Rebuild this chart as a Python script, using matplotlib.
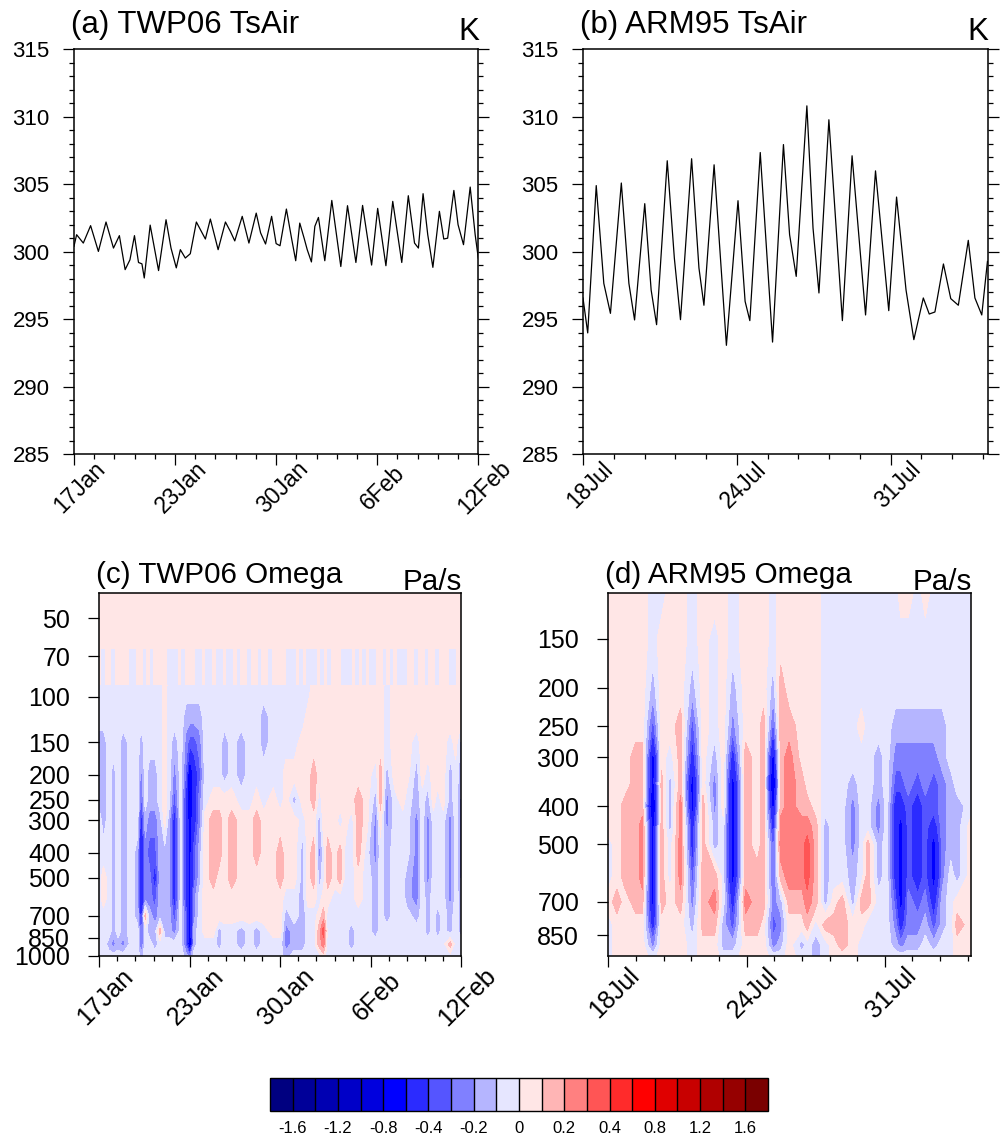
import numpy as np
import matplotlib
matplotlib.use("Agg")
import matplotlib.pyplot as plt
from matplotlib.ticker import MultipleLocator, FixedLocator, NullLocator, NullFormatter

plt.rcParams["font.family"] = ["Liberation Sans", "DejaVu Sans"]

# ---------------- surface air temperature (days since start, K) ----------------
twp_days = [0.0, 0.17, 0.6, 1.07, 1.57, 2.06, 2.54, 2.92, 3.29, 3.6, 3.89, 4.15, 4.37, 4.52,
            4.9, 5.44, 5.92, 6.24, 6.58, 6.84, 7.16, 7.48, 7.87, 8.45, 8.77, 9.27, 9.74,
            10.06, 10.34, 10.82, 11.25, 11.72, 12.0, 12.32, 12.71, 13.0, 13.25, 13.66, 14.0,
            14.26, 14.52, 14.8, 15.0, 15.27, 15.49, 15.72, 16.13, 16.58, 17.16, 17.59, 18.13,
            18.56, 19.14, 19.53, 20.06, 20.5, 21.08, 21.5, 21.9, 22.15, 22.45, 22.75, 23.08,
            23.5, 23.78, 24.03, 24.43, 24.7, 25.05, 25.48, 25.8, 26.0]
twp_tsair = [300.4, 301.26, 300.64, 301.93, 300.02, 302.2, 300.27, 301.19, 298.67, 299.4,
             301.19, 299.2, 299.1, 298.05, 301.97, 298.6, 302.37, 300.27, 298.8, 300.15,
             299.53, 299.85, 302.2, 300.94, 302.42, 300.15, 302.2, 301.5, 300.8, 302.62,
             300.64, 302.86, 301.4, 300.57, 302.62, 300.6, 300.44, 303.16, 300.94, 299.33,
             302.12, 301.0, 300.15, 299.24, 301.88, 302.54, 299.33, 303.8, 298.9, 303.41,
             299.2, 303.43, 299.01, 303.21, 298.96, 303.73, 299.2, 304.15, 300.64, 300.27,
             304.3, 301.26, 298.84, 302.99, 300.94, 301.0, 304.54, 302.0, 300.52, 304.79,
             301.26, 299.53]

arm_days = [0.0, 0.2, 0.56, 0.88, 1.16, 1.62, 1.94, 2.18, 2.61, 2.88, 3.11, 3.56, 3.86, 4.12,
            4.59, 4.9, 5.11, 5.54, 6.06, 6.55, 6.85, 7.05, 7.49, 8.01, 8.47, 8.73, 9.01, 9.46,
            9.72, 9.97, 10.39, 10.96, 11.37, 11.94, 12.36, 12.92, 13.25, 13.65, 13.98, 14.38,
            14.63, 14.87, 15.23, 15.54, 15.86, 16.28, 16.56, 16.85, 17.09]
arm_tsair = [296.57, 293.98, 304.9, 297.65, 295.43, 305.09, 297.65, 294.94, 303.56, 297.16,
             294.59, 306.74, 299.53, 294.96, 306.89, 298.79, 296.03, 306.44, 293.06, 303.78,
             296.32, 294.89, 307.35, 293.3, 307.94, 301.26, 298.17, 310.81, 301.75, 296.94,
             309.78, 294.89, 307.11, 295.31, 305.99, 295.63, 304.05, 297.16, 293.48, 296.57,
             295.38, 295.53, 299.09, 296.52, 296.03, 300.84, 296.57, 295.31, 299.28]

# ---------------- omega (Pa/s) ----------------
# representative values of the shaded bands
L, P = -0.05, 0.05
B1, B2, B3, B4, B5, B6 = -0.15, -0.25, -0.35, -0.5, -0.7, -0.9
R1, R2, R3 = 0.15, 0.25, 0.35

omega_levels = [-1.6, -1.4, -1.2, -1.0, -0.8, -0.6, -0.4, -0.3, -0.2, -0.1, 0,
                0.1, 0.2, 0.3, 0.4, 0.6, 0.8, 1.0, 1.2, 1.4, 1.6]
omega_colors = ["#000080", "#000099", "#0000b2", "#0000c8", "#0000de", "#0000ff",
                "#2b2bff", "#5555ff", "#8080ff", "#b5b5ff", "#e6e6ff", "#ffe6e6",
                "#ffb5b5", "#ff8080", "#ff5555", "#ff2b2b", "#ff0000", "#e00000",
                "#c80000", "#b00000", "#960000", "#7a0000"]

# TWP06: pink stratosphere rows, then profiles (one list per time)
twp_top_pres = [40, 64]
twp_pres = [92, 120, 150, 200, 250, 300, 400, 500, 600, 700, 800, 900, 1000]
twp_omega_days = [0.0, 0.3, 0.7, 1.0, 1.35, 1.7, 2.3, 2.75, 3.0, 3.3, 3.6, 4.0, 4.35, 4.7,
                  5.0, 5.4, 5.85, 6.25, 6.5, 6.8, 7.2, 7.6, 8.2, 8.6, 9.0, 9.5, 10.2, 10.8,
                  11.3, 11.8, 12.5, 13.0, 13.4, 14.0, 14.6, 15.0, 15.4, 15.8, 16.1, 16.4,
                  16.9, 17.3, 17.7, 18.1, 18.6, 19.2, 19.85, 20.2, 20.65, 21.2, 21.8, 22.1,
                  22.8, 23.2, 23.6, 24.0, 24.3, 24.7, 25.2, 25.6, 26.0]
twp_omega = [
    [L, L, B1, B1, B1, L, L, L, L, L, L, L, L],
    [L, L, B1, B1, B1, B1, L, P, P, L, L, L, L],
    [L, L, L, L, L, L, L, L, L, L, L, B1, L],
    [L, L, L, B1, B1, B1, B1, B1, B1, B1, B1, B2, L],
    [L, L, L, L, L, L, L, L, L, L, L, B1, L],
    [L, L, B1, B1, B1, B1, B1, B1, B1, B1, B1, B2, L],
    [L, L, L, L, L, L, L, L, L, L, L, L, L],
    [L, L, L, L, L, L, B1, B1, B1, B1, L, L, L],
    [L, L, B1, B2, B3, B4, B5, B5, B5, B4, B3, B3, B1],
    [L, L, L, L, L, B1, B2, B2, B2, R1, L, L, L],
    [L, L, L, B1, B1, B2, B3, B2, B2, B1, B1, L, L],
    [L, L, L, B1, B1, B2, B3, B4, B3, B2, B1, B1, L],
    [L, L, L, L, L, B1, B1, B1, B1, B1, R1, L, L],
    [P, P, P, P, P, P, B1, B1, B1, B1, B1, L, L],
    [L, L, L, L, L, B1, B1, B1, B1, B1, B1, L, L],
    [L, L, B1, B2, B3, B4, B4, B4, B4, B3, B2, L, L],
    [L, L, L, L, L, L, L, L, L, L, L, L, L],
    [L, B1, B2, B3, B4, B4, B4, B4, B4, B3, B3, B3, B1],
    [L, B1, B3, B6, B6, B5, B5, B5, B5, B5, B5, B6, B2],
    [L, B1, B3, B4, B4, B4, B3, B3, B2, B2, B1, B1, L],
    [L, B1, B2, B3, B2, B2, B1, B1, L, L, L, L, L],
    [L, L, L, L, L, P, P, P, P, P, P, L, L],
    [L, L, L, L, P, R1, R1, R1, P, P, P, L, L],
    [L, L, L, L, P, R1, R1, P, P, P, B1, B1, L],
    [L, L, B1, B1, P, P, P, P, P, P, L, L, L],
    [L, L, L, L, P, R1, R1, R1, P, P, L, L, L],
    [L, L, B1, B1, L, P, P, P, P, P, B1, B1, L],
    [L, L, L, L, L, P, P, P, P, P, L, L, L],
    [L, L, L, L, P, R1, R1, P, P, P, B1, B1, L],
    [L, B1, B1, L, L, P, P, P, P, P, L, L, L],
    [L, L, L, L, P, P, P, P, P, P, P, L, L],
    [L, L, L, L, L, P, R1, R1, P, P, P, L, L],
    [L, L, L, P, P, P, P, P, L, B1, B2, B2, B1],
    [L, L, L, P, B1, P, P, P, L, L, B1, B1, L],
    [L, L, P, P, P, L, B1, B1, B1, B1, B1, B1, L],
    [L, P, P, P, P, P, P, P, P, L, L, L, L],
    [P, P, P, R1, R1, P, R1, R1, P, L, L, L, L],
    [P, P, P, P, L, B1, B2, B1, L, P, R1, R1, L],
    [P, P, P, P, P, P, L, L, P, R1, R3, R2, P],
    [P, P, P, P, P, P, R1, R1, P, L, L, L, L],
    [P, P, P, P, P, P, P, P, L, L, L, L, L],
    [P, P, P, P, P, L, R1, R1, L, L, L, L, L],
    [P, P, P, P, P, P, L, L, L, L, L, L, L],
    [P, P, P, P, P, L, L, L, L, L, B1, B1, L],
    [P, P, P, P, R1, R1, R1, P, P, L, L, L, L],
    [P, P, P, P, P, P, L, L, L, L, L, L, L],
    [P, P, P, L, B1, B2, B2, B1, B1, B1, B1, L, L],
    [P, P, P, R1, R1, P, L, L, L, L, L, L, L],
    [L, L, L, B1, B2, B2, B1, B1, B1, B1, L, L, L],
    [P, P, P, P, L, L, L, L, L, L, L, L, L],
    [P, P, P, P, P, L, L, L, L, L, L, L, L],
    [P, P, P, P, L, L, L, B1, B1, L, L, L, L],
    [P, P, L, B1, B1, B2, B2, B2, B2, B1, L, L, L],
    [P, P, P, P, L, L, L, L, L, L, L, L, L],
    [P, P, P, L, B1, B2, B2, B2, B1, B1, B1, L, L],
    [P, P, P, P, P, L, L, L, L, L, L, L, L],
    [P, P, P, P, L, L, L, L, L, B1, B1, L, L],
    [P, P, P, P, P, L, L, L, L, L, L, L, L],
    [P, P, L, B1, B1, B2, B2, B2, B2, B1, B1, R1, L],
    [P, P, P, L, L, L, L, L, L, L, L, L, L],
    [P, P, B1, B1, B2, B2, B2, B2, B1, B1, B1, L, L],
]

# TWP06 striped layer between about 65 and 90 hPa, every 6 h
twp_band_pres = [65.5, 90.0]
twp_band = [P, L, P, P, L, P, P, P, P, L, L, P, P, L, P, L, P, P, P, P, L, L, L, P, L, P,
            P, P, L, L, P, L, L, P, L, L, P, L, L, P, L, P, P, L, P, P, L, P, P, L, P, P,
            P, P, L, L, L, P, L, P, L, L, L, P, L, P, L, P, P, P, L, L, L, P, L, P, L, P,
            L, L, P, P, L, P, L, P, L, L, L, P, P, L, P, P, L, P, P, L, P, P, P, L, L, P, P]

# ARM95 profiles
arm_pres = [115, 150, 200, 250, 300, 350, 400, 450, 500, 600, 700, 800, 900, 960]
arm_omega_days = [0.0, 0.4, 0.8, 1.3, 1.6, 2.1, 2.5, 2.9, 3.4, 3.95, 4.45, 5.0, 5.4, 5.85,
                  6.45, 7.0, 7.3, 7.75, 8.1, 8.5, 9.1, 9.35, 9.75, 10.2, 10.6, 11.0, 11.5,
                  11.9, 12.2, 12.7, 13.1, 13.5, 13.75, 14.1, 14.55, 14.9, 15.3, 15.7, 16.1,
                  16.4, 17.05]
arm_omega = [
    [P, P, P, P, P, P, P, P, L, L, P, L, L, L],
    [P, P, P, P, P, P, P, P, P, P, R1, P, P, P],
    [P, P, P, P, P, P, R1, R1, R1, R1, P, P, P, P],
    [P, P, P, P, R1, R1, R1, R1, R1, R1, R1, P, P, P],
    [P, P, P, P, R1, R1, R1, R2, R2, R2, R1, P, P, P],
    [L, L, B1, B3, B5, B5, B6, B5, B5, B5, B5, B4, B2, L],
    [L, P, P, P, P, R1, R1, R1, R1, R1, R1, P, P, P],
    [P, P, P, P, L, B1, B1, B1, L, L, P, P, P, P],
    [P, P, P, R1, R1, R1, R2, R2, R2, R2, R1, P, P, P],
    [L, L, B1, B3, B4, B5, B5, B4, B4, B3, B2, B1, L, L],
    [P, P, P, P, P, P, R1, R1, R1, R1, R1, R1, P, P],
    [P, L, L, L, B1, B2, B2, B1, B1, R1, R2, R1, P, P],
    [P, P, P, P, P, P, P, L, L, L, L, B1, B1, L],
    [L, L, B1, B2, B4, B5, B5, B5, B5, B5, B4, B3, B1, L],
    [P, P, P, P, R1, R1, R1, R1, R1, R1, R2, R1, P, P],
    [P, P, P, P, P, P, P, P, P, R1, R1, R1, P, P],
    [P, P, P, R1, R1, R1, R1, R1, R1, R1, R1, P, P, P],
    [L, L, B1, B3, B5, B6, B5, B4, B3, B3, B2, B3, B2, L],
    [P, P, R1, R1, R1, R1, R1, R2, R2, R1, B1, B2, B1, L],
    [P, P, P, R1, R2, R2, R2, R2, R2, R2, R1, P, P, P],
    [P, P, P, P, P, R1, R1, R2, R2, R2, R1, P, B1, L],
    [P, P, P, P, P, P, R1, R2, R3, R3, R2, R1, L, L],
    [P, P, P, P, P, P, P, R1, R1, R1, R1, L, B1, B1],
    [L, L, L, L, L, L, L, B1, B1, B1, B1, R1, L, L],
    [L, L, L, L, L, L, L, L, L, L, P, R1, P, P],
    [L, L, L, L, L, L, L, L, L, L, R1, R1, R1, P],
    [L, L, L, L, L, B1, B2, B2, B2, B1, B1, P, P, P],
    [L, L, L, P, L, L, L, L, L, L, R1, P, L, L],
    [L, L, L, L, L, L, L, L, R1, R1, R1, L, L, L],
    [L, L, L, L, B1, B1, B2, B2, B1, B1, L, L, L, L],
    [L, L, L, L, L, L, L, L, L, L, L, L, L, L],
    [L, L, L, B1, B2, B3, B4, B4, B4, B4, B3, B2, B1, L],
    [P, L, L, B1, B2, B3, B4, B5, B5, B5, B5, B4, B2, L],
    [P, L, L, B1, B2, B2, B3, B3, B3, B3, B2, B2, B1, L],
    [L, L, L, B1, B2, B3, B4, B4, B4, B4, B3, B2, B1, L],
    [P, L, L, B1, B2, B2, B3, B3, B3, B3, B2, B1, L, L],
    [L, L, L, B1, B2, B3, B3, B4, B5, B5, B4, B3, B1, L],
    [L, L, L, B1, B1, B2, B2, B2, B2, B2, B1, B1, L, L],
    [L, L, L, L, L, B1, B1, B1, B1, L, L, L, L, L],
    [L, L, L, L, L, L, B1, B1, B1, B1, P, R1, P, P],
    [L, L, L, L, L, L, L, P, P, P, P, P, P, P],
]

twp_ticks = [0, 6.5, 13, 19.5, 26]
twp_ticklabels = ["17Jan", "23Jan", "30Jan", "6Feb", "12Feb"]
arm_ticks = [0, 6.5, 13]
arm_ticklabels = ["18Jul", "24Jul", "31Jul"]

PX = 0.72  # points per pixel at 100 dpi


def date_labels(ax, ticks, labels, size, down_px, right_px):
    ax.set_xticks(ticks)
    ax.set_xticklabels([])
    for t, lab in zip(ticks, labels):
        ax.annotate(lab, xy=(t, 0), xycoords=("data", "axes fraction"),
                    xytext=(right_px * PX, -down_px * PX), textcoords="offset points",
                    rotation=45, ha="center", va="center", fontsize=size)


def corner_titles(ax, left, right, size, left_px, right_px):
    ax.annotate(left, xy=(0, 1), xycoords="axes fraction", xytext=(-3 * PX, left_px * PX),
                textcoords="offset points", ha="left", va="baseline", fontsize=size)
    ax.annotate(right, xy=(1, 1), xycoords="axes fraction", xytext=(1 * PX, right_px * PX),
                textcoords="offset points", ha="right", va="baseline", fontsize=size)


def ts_panel(ax, days, temps, xmax, ticks, labels, title, down_px, right_px):
    ax.plot(days, temps, color="black", lw=0.9)
    ax.set_xlim(0, xmax)
    ax.set_ylim(285, 315)
    ax.set_yticks(range(285, 316, 5))
    ax.yaxis.set_minor_locator(MultipleLocator(1))
    ax.xaxis.set_minor_locator(MultipleLocator(1.3))
    ax.tick_params(which="both", direction="out", right=True, top=False, width=0.9)
    ax.tick_params(which="major", length=8, labelsize=16, pad=9.5)
    ax.tick_params(which="minor", length=3.6)
    date_labels(ax, ticks, labels, 16.5, down_px, right_px)
    corner_titles(ax, title, "K", 22.5, 16, 9)
    for s in ax.spines.values():
        s.set_linewidth(1.1)


def omega_panel(ax, days, pres, field, xmax, ylim, yticks, ticks, labels, title, down_px):
    X, Y = np.meshgrid(days, pres)
    cf = ax.contourf(X, Y, field, levels=omega_levels, colors=omega_colors, extend="both")
    ax.set_yscale("log")
    ax.set_xlim(0, xmax)
    ax.set_ylim(*ylim)
    ax.yaxis.set_major_locator(FixedLocator(yticks))
    ax.yaxis.set_major_formatter(matplotlib.ticker.FixedFormatter([str(v) for v in yticks]))
    ax.yaxis.set_minor_locator(NullLocator())
    ax.yaxis.set_minor_formatter(NullFormatter())
    ax.xaxis.set_minor_locator(MultipleLocator(1.3))
    ax.tick_params(which="both", direction="out", top=False, right=False, width=0.9)
    ax.tick_params(which="major", length=8, labelsize=18, pad=13)
    ax.tick_params(which="minor", length=3.6)
    date_labels(ax, ticks, labels, 18, down_px, 6)
    corner_titles(ax, title, "Pa/s", 21.3, 10, 3)
    for s in ax.spines.values():
        s.set_linewidth(1.1)
        s.set_zorder(5)
    return cf


fig = plt.figure(figsize=(10.01, 11.34), dpi=100)
ax_a = fig.add_axes([0.0739, 0.5996, 0.4039, 0.3569])
ax_b = fig.add_axes([0.5824, 0.5996, 0.4043, 0.3569])
ax_c = fig.add_axes([0.0992, 0.1570, 0.3616, 0.3198])
ax_d = fig.add_axes([0.6077, 0.1570, 0.3623, 0.3198])
cax = fig.add_axes([0.2697, 0.0203, 0.4975, 0.0291])

ts_panel(ax_a, twp_days, twp_tsair, 26, twp_ticks, twp_ticklabels, "(a) TWP06 TsAir", 33.5, 6)
ts_panel(ax_b, arm_days, arm_tsair, 17.1, arm_ticks, arm_ticklabels, "(b) ARM95 TsAir", 31, 7)

twp_field = np.vstack([np.full((len(twp_top_pres), len(twp_omega_days)), P),
                       np.array(twp_omega).T])
cf = omega_panel(ax_c, twp_omega_days, twp_top_pres + twp_pres, twp_field, 26, (1000, 40),
                 [50, 70, 100, 150, 200, 250, 300, 400, 500, 700, 850, 1000],
                 twp_ticks, twp_ticklabels, "(c) TWP06 Omega", 41)
band_days = np.arange(len(twp_band)) * 0.25
ax_c.contourf(band_days, twp_band_pres, np.array([twp_band, twp_band]),
              levels=omega_levels, colors=omega_colors, extend="both")

omega_panel(ax_d, arm_omega_days, arm_pres, np.array(arm_omega).T, 17.05, (960, 115),
            [150, 200, 250, 300, 400, 500, 700, 850],
            arm_ticks, arm_ticklabels, "(d) ARM95 Omega", 37)

cb = fig.colorbar(cf, cax=cax, orientation="horizontal", extend="both", extendrect=True,
                  extendfrac="auto", drawedges=True, spacing="uniform",
                  ticks=omega_levels[::2])
cb.ax.set_xticklabels(["-1.6", "-1.2", "-0.8", "-0.4", "-0.2", "0", "0.2", "0.4",
                       "0.8", "1.2", "1.6"])
cb.ax.tick_params(length=0, labelsize=12, pad=7)
cb.outline.set_linewidth(1.0)
cb.dividers.set_linewidth(1.0)
cb.dividers.set_color("black")

fig.savefig("out.png", dpi=100)
